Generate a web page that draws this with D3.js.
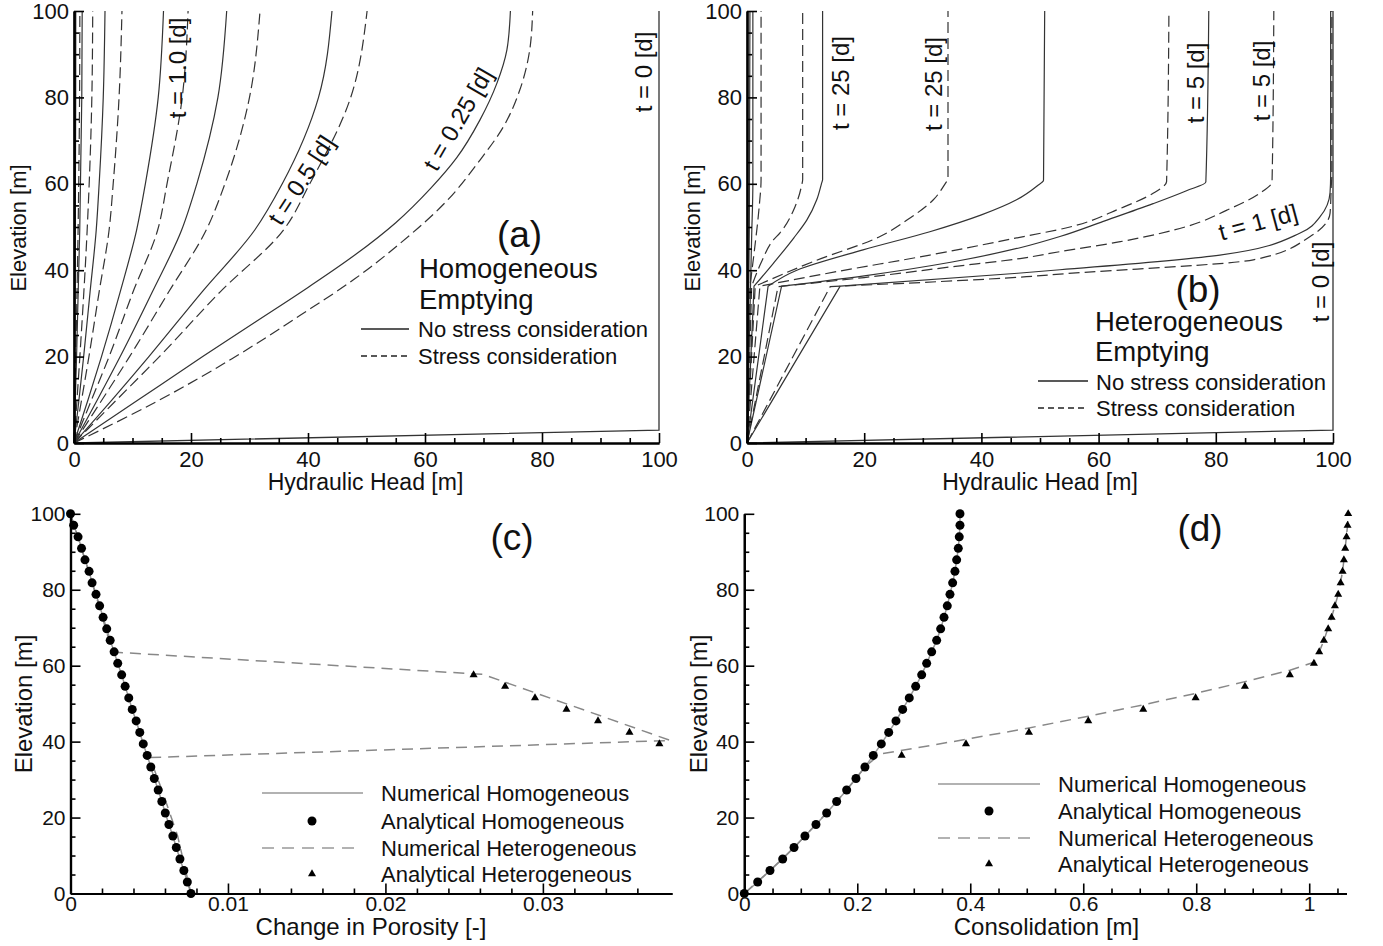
<!DOCTYPE html>
<html>
<head>
<meta charset="utf-8">
<script src="https://cdn.jsdelivr.net/npm/d3@7"></script>
<style>
  body { margin: 0; background: #fff; }
  text { font-family: "Liberation Sans", Arial, Helvetica, sans-serif; fill: #111; }
</style>
</head>
<body>
<script>
// ---- data ----
let elevTicks = [0, 20, 40, 60, 80, 100];
let headTicks = [0, 20, 40, 60, 80, 100];
let porosityTicks = [0, 0.01, 0.02, 0.03];
let consolTicks = [0, 0.2, 0.4, 0.6, 0.8, 1];

// (a) homogeneous emptying, [head, elevation]
let homoNoStress = [
  [[0,0],[0.1,20],[0.21,49.3],[0.29,80],[0.3,100]],
  [[0,0],[0.44,20],[0.98,49.3],[1.33,80],[1.4,100]],
  [[0,0],[0.85,10],[1.65,20],[2.75,35],[3.8,49.3],[4.3,60],[5.0,80],[5.3,100]],
  [[0,0],[2.4,10],[4.7,20],[7.9,35],[10.7,49.3],[12.2,60],[14.4,80],[15.3,100]],
  [[0,0],[4.0,10],[7.9,20],[13.4,35],[18.4,49.3],[21.0,60],[24.6,80],[26.1,100]],
  [[0,0],[6.5,10],[12.8,20],[21.9,35],[30.9,49.3],[35.6,60],[41.8,80],[44.1,100]],
  [[0,0],[11,10],[22,20],[31,28],[40,36],[48,43.5],[55,51],[61,59],[65.4,66],[69.4,74.8],[72.3,83.3],[74,91],[74.6,100]]
];
let homoStress = [
  [[0,0],[0.3,20],[0.7,49.3],[0.95,80],[1.0,100]],
  [[0,0],[1.0,20],[2.25,49.3],[3.05,80],[3.2,100]],
  [[0,0],[1.3,10],[2.55,20],[4.3,35],[6.0,49.3],[6.7,60],[7.7,80],[8.2,100]],
  [[0,0],[3.0,10],[6.0,20],[10.1,35],[14.3,49.3],[15.9,60],[18.5,80],[19.5,100]],
  [[0,0],[4.8,10],[9.5,20],[16.2,35],[22.6,49.3],[25.8,60],[30.0,80],[31.8,100]],
  [[0,0],[7.3,10],[14.6,20],[25.0,35],[35.8,49.3],[40.3,60],[47.3,80],[50.1,100]],
  [[0,0],[14,9.5],[27,19.5],[38.6,29.5],[48,38],[56,46.5],[63.7,56],[69.4,65.5],[73.4,73.2],[76.2,81.7],[77.9,91],[78.4,100]]
];
let initialHead = [[0,0],[100,3],[100,100]];

// (b) heterogeneous emptying (first segment below the layer at ~36 m is straight)
let heteroNoStress = [
  [[0,0],[0.3,36.3],[0.4,50],[0.5,100]],
  [[0,0],[0.6,36.3],[0.8,48],[1.0,60],[1.0,100]],
  [[0,0],[1.2,36.3],[4.5,41.6],[8,47.5],[10.2,51.6],[11.9,56.3],[12.7,60],[12.9,61],[12.9,100]],
  [[0,0],[3.6,36.3],[8.5,40],[19.8,44.7],[31.2,48.9],[40,52.8],[46,56.3],[49.5,59.5],[50.6,60.8],[50.8,100]],
  [[0,0],[5.9,36.3],[20,38.7],[35,41.9],[46.6,45.2],[53.4,47.8],[60.8,51.3],[69.3,55.4],[75,58.4],[78.3,60.4],[78.8,100]],
  [[0,0],[15.9,36.3],[46.2,39.3],[53.4,40.1],[80.7,43.5],[94.4,48.6],[97.8,52.4],[99.5,58],[99.6,62],[99.6,100]]
];
let heteroStress = [
  [[0,0],[0.5,36.3],[1.3,45],[2.1,55],[2.4,61],[2.4,100]],
  [[0,0],[0.8,36.3],[2.5,42],[4.5,47],[5.6,48.6],[8.2,54.7],[9.3,59.5],[9.5,61],[9.5,100]],
  [[0,0],[1.4,36.3],[11.3,42],[22.7,47.8],[27.3,51.6],[31.8,56.3],[34,60.4],[34.3,61],[34.3,100]],
  [[0,0],[2.2,36.3],[15,39.6],[31.2,43.5],[45,47.2],[55.1,50],[63.7,54.3],[69.3,57.8],[71.6,60.5],[72,100]],
  [[0,0],[5.3,36.2],[20,38.3],[35,40.8],[46.6,42.7],[53.4,44.3],[63.7,46.6],[75,50.1],[81.9,53.9],[87.5,57.8],[89.6,60.5],[89.9,100]],
  [[0,0],[14.2,36.2],[47.7,38.5],[53.4,39.1],[86.4,42.4],[96.1,47.8],[99.5,53.2],[99.7,59.3],[99.8,62],[99.8,100]]
];

// (c), (d) analytical points
let elevGrid = [100, 96.97, 93.94, 90.91, 87.88, 84.85, 81.82, 78.79, 75.76, 72.73, 69.70, 66.67,
  63.64, 60.61, 57.58, 54.55, 51.52, 48.48, 45.45, 42.42, 39.39, 36.36, 33.33, 30.30, 27.27,
  24.24, 21.21, 18.18, 15.15, 12.12, 9.09, 6.06, 3.03, 0];
let porosityHomo = [0, 0.00020, 0.00048, 0.00070, 0.00092, 0.00118, 0.00137, 0.00162, 0.00185,
  0.00207, 0.00230, 0.00252, 0.00277, 0.00300, 0.00325, 0.00347, 0.00370, 0.00392, 0.00417,
  0.00440, 0.00462, 0.00487, 0.00510, 0.00532, 0.00557, 0.00580, 0.00602, 0.00625, 0.00650,
  0.00672, 0.00695, 0.00720, 0.00742, 0.00765];
let consolHomo = [0.3818, 0.3818, 0.3805, 0.3788, 0.3759, 0.3729, 0.3688, 0.3641, 0.3593, 0.3535,
  0.3476, 0.3405, 0.3317, 0.3228, 0.3140, 0.3034, 0.2920, 0.2803, 0.2685, 0.2556, 0.2425, 0.2283,
  0.2136, 0.1977, 0.1812, 0.1635, 0.1458, 0.1269, 0.1074, 0.0880, 0.0680, 0.0455, 0.0237, 0];

let triElevC = [57.58, 54.55, 51.52, 48.48, 45.45, 42.42, 39.39];
let porosityHetero = [0.0256, 0.0276, 0.0295, 0.0315, 0.0335, 0.0355, 0.0374];
let porosityHeteroNum = [[0,100],[0.0007,90.9],[0.0016,78.8],[0.00266,63.6],[0.0262,57.7],
  [0.0381,40.3],[0.00504,35.8],[0.0058,27.3],[0.0068,15.2],[0.00765,0]];

let triElevD = [36.36, 39.39, 42.42, 45.45, 48.48, 51.52, 54.55, 57.58, 60.61, 63.64, 66.67,
  69.70, 72.73, 75.76, 78.79, 81.82, 84.85, 87.88, 90.91, 93.94, 96.97, 100];
let consolHetero = [0.2786, 0.3924, 0.5039, 0.6089, 0.7062, 0.7989, 0.8862, 0.9658, 1.0083,
  1.0177, 1.0260, 1.0336, 1.0396, 1.0455, 1.0513, 1.0556, 1.0591, 1.0614, 1.0637, 1.0661, 1.0679, 1.0690];
let consolHeteroNum = [[0,0],[0.0455,6.06],[0.0880,12.12],[0.1269,18.18],[0.1635,24.24],
  [0.1977,30.30],[0.2136,33.33],[0.24,36.7],[0.3924,40.6],[0.5039,43.6],[0.6089,46.7],
  [0.7062,49.7],[0.7989,52.7],[0.8862,55.8],[0.9658,58.8],[1.0083,60.9],[1.0177,63.64],
  [1.0260,66.67],[1.0396,72.73],[1.0513,78.79],[1.0591,84.85],[1.0637,90.91],[1.0679,96.97],[1.0690,100]];

// ---- drawing ----
let svg = d3.select("body").append("svg")
  .attr("width", 1383).attr("height", 946)
  .style("background", "#fff");

let xA = d3.scaleLinear().domain([0, 100]).range([74, 659]);
let yA = d3.scaleLinear().domain([0, 100]).range([443, 11]);
let xB = d3.scaleLinear().domain([0, 100]).range([747, 1333]);
let yB = d3.scaleLinear().domain([0, 100]).range([443, 11]);
let xC = d3.scaleLinear().domain([0, 0.0382]).range([70.5, 672]);
let yC = d3.scaleLinear().domain([0, 100]).range([893.5, 513.8]);
let xD = d3.scaleLinear().domain([0, 1.066]).range([744.3, 1346.5]);
let yD = d3.scaleLinear().domain([0, 100]).range([893.5, 513.8]);

function drawAxes(x, y, xt, xminor, yminor, fs, pad) {
  let gx = svg.append("g").attr("transform", "translate(0," + y.range()[0] + ")");
  gx.append("g").call(d3.axisBottom(x).tickValues(xminor).tickSize(-5).tickSizeOuter(0).tickFormat(""));
  gx.append("g").call(d3.axisBottom(x).tickValues(xt).tickSize(-10).tickSizeOuter(0)
    .tickPadding(pad).tickFormat(d3.format("~g")));
  let gy = svg.append("g").attr("transform", "translate(" + x.range()[0] + ",0)");
  gy.append("g").call(d3.axisLeft(y).tickValues(yminor).tickSize(-5).tickSizeOuter(0).tickFormat(""));
  gy.append("g").call(d3.axisLeft(y).tickValues(elevTicks).tickSize(-10).tickSizeOuter(0)
    .tickPadding(5).tickFormat(d3.format("~g")));

  [gx, gy].forEach(function(g) {
    g.selectAll(".domain").attr("stroke", "#000").attr("stroke-width", 2.2);
    g.selectAll(".tick line").attr("stroke", "#000").attr("stroke-width", 1.6);
    g.selectAll("text")
      .style("font-family", '"Liberation Sans", Arial, sans-serif')
      .style("font-size", fs + "px")
      .attr("fill", "#111");
  });
}

function drawCurves(curves, x, y, dashed, straightBase) {
  let smooth = d3.line()
    .x(function(d) { return x(d[0]); })
    .y(function(d) { return y(d[1]); })
    .curve(d3.curveMonotoneY);
  let straight = d3.line()
    .x(function(d) { return x(d[0]); })
    .y(function(d) { return y(d[1]); });
  svg.append("g").selectAll("path")
    .data(curves)
    .enter().append("path")
      .attr("d", function(d) {
        if (!straightBase) return smooth(d);
        return straight(d.slice(0, 2)) + smooth(d.slice(1)).replace(/^M/, "L");
      })
      .attr("fill", "none")
      .attr("stroke", "#333")
      .attr("stroke-width", 1.2)
      .attr("stroke-dasharray", dashed ? "11,5" : null);
}

function label(txt, x, y, rot, size) {
  svg.append("text")
    .attr("transform", "translate(" + x + "," + y + ") rotate(" + rot + ")")
    .attr("text-anchor", "middle")
    .attr("dominant-baseline", "central")
    .style("font-size", size + "px")
    .text(txt);
}

function text(txt, x, y, size, anchor) {
  svg.append("text")
    .attr("x", x).attr("y", y)
    .attr("text-anchor", anchor || "start")
    .style("font-size", size + "px")
    .text(txt);
}

function legendLine(x1, x2, y, dash, color, w) {
  svg.append("line")
    .attr("x1", x1).attr("x2", x2).attr("y1", y).attr("y2", y)
    .attr("stroke", color).attr("stroke-width", w)
    .attr("stroke-dasharray", dash);
}

function legendText(txt, x, y) {
  svg.append("text").attr("x", x).attr("y", y).attr("dominant-baseline", "central")
    .style("font-size", "22px").text(txt);
}

let minor5 = d3.range(5, 100, 5).filter(function(v) { return v % 20 != 0; });

// panel (a)
drawCurves(homoNoStress, xA, yA, false, false);
drawCurves(homoStress, xA, yA, true, false);
svg.append("path")
  .attr("d", d3.line().x(function(d) { return xA(d[0]); }).y(function(d) { return yA(d[1]); })(initialHead))
  .attr("fill", "none").attr("stroke", "#333").attr("stroke-width", 1.3);
drawAxes(xA, yA, headTicks, minor5, minor5, 22, 8);

label("t = 1.0 [d]", 177, 68, -90, 24);
label("t = 0.5 [d]", 301, 180, -57, 24);
label("t = 0.25 [d]", 458, 119, -60, 24);
label("t = 0 [d]", 643, 72, -90, 24);
text("(a)", 519.5, 247, 37, "middle");
text("Homogeneous", 419, 278, 27.5);
text("Emptying", 419, 309, 27.5);
legendLine(361, 409, 329, null, "#222", 1.5);
legendLine(361, 409, 356, "6,4", "#222", 1.5);
legendText("No stress consideration", 418, 329);
legendText("Stress consideration", 418, 356);
text("Hydraulic Head [m]", 365.5, 490, 23, "middle");
label("Elevation [m]", 18.5, 228, -90, 22);

// panel (b)
drawCurves(heteroNoStress, xB, yB, false, true);
drawCurves(heteroStress, xB, yB, true, true);
svg.append("path")
  .attr("d", d3.line().x(function(d) { return xB(d[0]); }).y(function(d) { return yB(d[1]); })(initialHead))
  .attr("fill", "none").attr("stroke", "#333").attr("stroke-width", 1.3);
drawAxes(xB, yB, headTicks, minor5, minor5, 22, 8);

label("t = 25 [d]", 840, 83, -90, 24);
label("t = 25 [d]", 933, 84, -90, 24);
label("t = 5 [d]", 1195, 83, -90, 24);
label("t = 5 [d]", 1261, 81, -90, 24);
label("t = 1 [d]", 1258, 222, -15, 24);
label("t = 0 [d]", 1320, 282, -90, 24);
text("(b)", 1198, 302, 37, "middle");
text("Heterogeneous", 1095, 331, 27.5);
text("Emptying", 1095, 361, 27.5);
legendLine(1038, 1088, 381, null, "#222", 1.5);
legendLine(1038, 1088, 408, "6,4", "#222", 1.5);
legendText("No stress consideration", 1096, 382);
legendText("Stress consideration", 1096, 408);
text("Hydraulic Head [m]", 1040, 490, 23, "middle");
label("Elevation [m]", 692, 228, -90, 22);

// panel (c)
let homoPtsC = elevGrid.map(function(e, i) { return [porosityHomo[i], e]; });
let triPtsC = triElevC.map(function(e, i) { return [porosityHetero[i], e]; });
let lineC = d3.line().x(function(d) { return xC(d[0]); }).y(function(d) { return yC(d[1]); });
svg.append("path").attr("d", lineC(homoPtsC))
  .attr("fill", "none").attr("stroke", "#999").attr("stroke-width", 1.5);
svg.append("path").attr("d", lineC(porosityHeteroNum))
  .attr("fill", "none").attr("stroke", "#888").attr("stroke-width", 1.5)
  .attr("stroke-dasharray", "11,7");
svg.append("g").selectAll("circle").data(homoPtsC).enter().append("circle")
  .attr("cx", function(d) { return xC(d[0]); })
  .attr("cy", function(d) { return yC(d[1]); })
  .attr("r", 4.5).attr("fill", "#000");
svg.append("g").selectAll("path").data(triPtsC).enter().append("path")
  .attr("d", d3.symbol().type(d3.symbolTriangle).size(28))
  .attr("transform", function(d) { return "translate(" + xC(d[0]) + "," + yC(d[1]) + ")"; })
  .attr("fill", "#000");

let xminorC = d3.range(0.002, 0.038, 0.002).filter(function(v) { return Math.abs(v * 100 - Math.round(v * 100)) > 1e-6; });
drawAxes(xC, yC, porosityTicks, xminorC, minor5, 21, 3);
text("(c)", 512, 550, 37, "middle");
text("Change in Porosity [-]", 371, 935, 24, "middle");
label("Elevation [m]", 23, 704, -90, 24);

let legC = ["Numerical Homogeneous", "Analytical Homogeneous", "Numerical Heterogeneous", "Analytical Heterogeneous"];
let legRowsC = [793, 821, 848, 874];
legendLine(262, 363, legRowsC[0], null, "#999", 1.5);
svg.append("circle").attr("cx", 312).attr("cy", legRowsC[1]).attr("r", 4.5).attr("fill", "#000");
legendLine(262, 357, legRowsC[2], "12,8", "#999", 1.5);
svg.append("path").attr("d", d3.symbol().type(d3.symbolTriangle).size(28))
  .attr("transform", "translate(312," + legRowsC[3] + ")").attr("fill", "#000");
legC.forEach(function(t, i) { legendText(t, 381, legRowsC[i]); });

// panel (d)
let homoPtsD = elevGrid.map(function(e, i) { return [consolHomo[i], e]; });
let triPtsD = triElevD.map(function(e, i) { return [consolHetero[i], e]; });
let lineD = d3.line().x(function(d) { return xD(d[0]); }).y(function(d) { return yD(d[1]); });
svg.append("path").attr("d", lineD(homoPtsD))
  .attr("fill", "none").attr("stroke", "#999").attr("stroke-width", 1.5);
svg.append("path").attr("d", lineD(consolHeteroNum))
  .attr("fill", "none").attr("stroke", "#888").attr("stroke-width", 1.5)
  .attr("stroke-dasharray", "11,7");
svg.append("g").selectAll("circle").data(homoPtsD).enter().append("circle")
  .attr("cx", function(d) { return xD(d[0]); })
  .attr("cy", function(d) { return yD(d[1]); })
  .attr("r", 4.5).attr("fill", "#000");
svg.append("g").selectAll("path").data(triPtsD).enter().append("path")
  .attr("d", d3.symbol().type(d3.symbolTriangle).size(28))
  .attr("transform", function(d) { return "translate(" + xD(d[0]) + "," + yD(d[1]) + ")"; })
  .attr("fill", "#000");

let xminorD = d3.range(0.05, 1.066, 0.05).filter(function(v) { return Math.abs(v * 5 - Math.round(v * 5)) > 1e-6; });
drawAxes(xD, yD, consolTicks, xminorD, minor5, 21, 3);
text("(d)", 1200, 541, 37, "middle");
text("Consolidation [m]", 1046.5, 935, 24, "middle");
label("Elevation [m]", 698, 704, -90, 24);

let legRowsD = [784, 811, 838, 864];
legendLine(938, 1040, legRowsD[0], null, "#999", 1.5);
svg.append("circle").attr("cx", 989).attr("cy", legRowsD[1]).attr("r", 4.5).attr("fill", "#000");
legendLine(938, 1033, legRowsD[2], "12,8", "#999", 1.5);
svg.append("path").attr("d", d3.symbol().type(d3.symbolTriangle).size(28))
  .attr("transform", "translate(989," + legRowsD[3] + ")").attr("fill", "#000");
legC.forEach(function(t, i) { legendText(t, 1058, legRowsD[i]); });
</script>
</body>
</html>
